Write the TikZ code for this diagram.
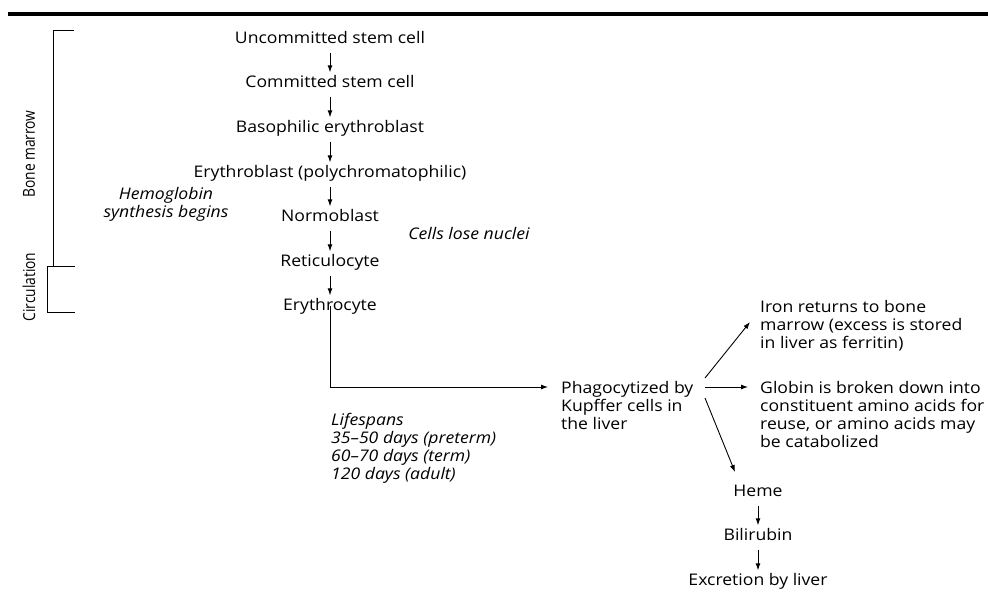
\documentclass[tikz,border=0pt]{standalone}
\usepackage{fontspec}
\setmainfont{Open Sans}[FakeStretch=1.1]
\usetikzlibrary{arrows.meta}
\begin{document}
\begin{tikzpicture}[x=1pt,y=-1pt,
  txt/.style={font=\fontsize{16}{18}\selectfont, inner sep=0pt},
  cell/.style={txt, text height=11.5pt, text depth=3.5pt},
  note/.style={txt, font=\fontsize{16}{18}\selectfont\itshape, align=left},
  side/.style={txt, font=\fontsize{16.5}{18}\selectfont, rotate=90},
  flow/.style={-{Latex[length=7pt,width=5pt]}, line width=0.9pt},
  step2/.style={flow, shorten <=6pt, shorten >=3pt},
  brk/.style={line width=1pt}]
\useasboundingbox (0,0) rectangle (988,597);
% top rule
\draw[line width=3.5pt] (8,14) -- (988,14);
% brackets
\coordinate (bt) at (74,30);
\coordinate (bb) at (53,266);
\coordinate (ct) at (75,266);
\coordinate (cb) at (75,312);
\draw[brk] (bt) -- (53,30) -- (bb);
\draw[brk] (ct) -- (47,266) -- (47,312) -- (cb);
\node[side] (bm) at (29,154) {\scalebox{0.76}[1]{Bone marrow}};
\node[side] (ci) at (29,287) {\scalebox{0.76}[1]{Circulation}};
% main column
\node[cell] (n1) at (330,39) {Uncommitted stem cell};
\node[cell] (n2) at (330,83) {Committed stem cell};
\node[cell] (n3) at (330,128) {Basophilic erythroblast};
\node[cell] (n4) at (330,173) {Erythroblast (polychromatophilic)};
\node[cell] (n5) at (330,217) {Normoblast};
\node[cell] (n6) at (330,262) {Reticulocyte};
\node[cell] (n7) at (330,306) {Erythrocyte};
\foreach \a/\b in {n1/n2,n2/n3,n3/n4,n4/n5,n5/n6,n6/n7}
  \draw[step2] (\a.south) -- (\b.north);
\node[note, align=center] (hb) at (166,204) {Hemoglobin\\synthesis begins};
\node[note] (cl) at (469,233) {Cells lose nuclei};
% phagocytosis
\node[txt, align=left, anchor=west] (ph) at (561,405) {Phagocytized by\\Kupffer cells in\\the liver};
\coordinate (corner) at (330,387);
\draw[flow] (n7.south) ++(0,8pt) -- (corner) -- (548,387);
\node[note, anchor=west] (ls) at (331,448) {Lifespans\\35--50 days (preterm)\\60--70 days (term)\\120 days (adult)};
% outputs
\node[txt, align=left, anchor=west] (fe) at (760,326) {Iron returns to bone\\marrow (excess is stored\\in liver as ferritin)};
\node[txt, align=left, anchor=west] (gl) at (760,414) {Globin is broken down into\\constituent amino acids for\\reuse, or amino acids may\\be catabolized};
\node[cell] (he) at (758,492) {Heme};
\node[cell] (bi) at (758,536) {Bilirubin};
\node[cell] (ex) at (758,581) {Excretion by liver};
\coordinate (o1) at (705,378);
\coordinate (o2) at (705,387);
\coordinate (o3) at (705,398);
\draw[flow] (o1) -- (750,322);
\draw[flow] (o2) -- (748,387);
\draw[flow] (o3) -- (735,472);
\draw[step2] (he.south) -- (bi.north);
\draw[step2] (bi.south) -- (ex.north);
\end{tikzpicture}
\end{document}
